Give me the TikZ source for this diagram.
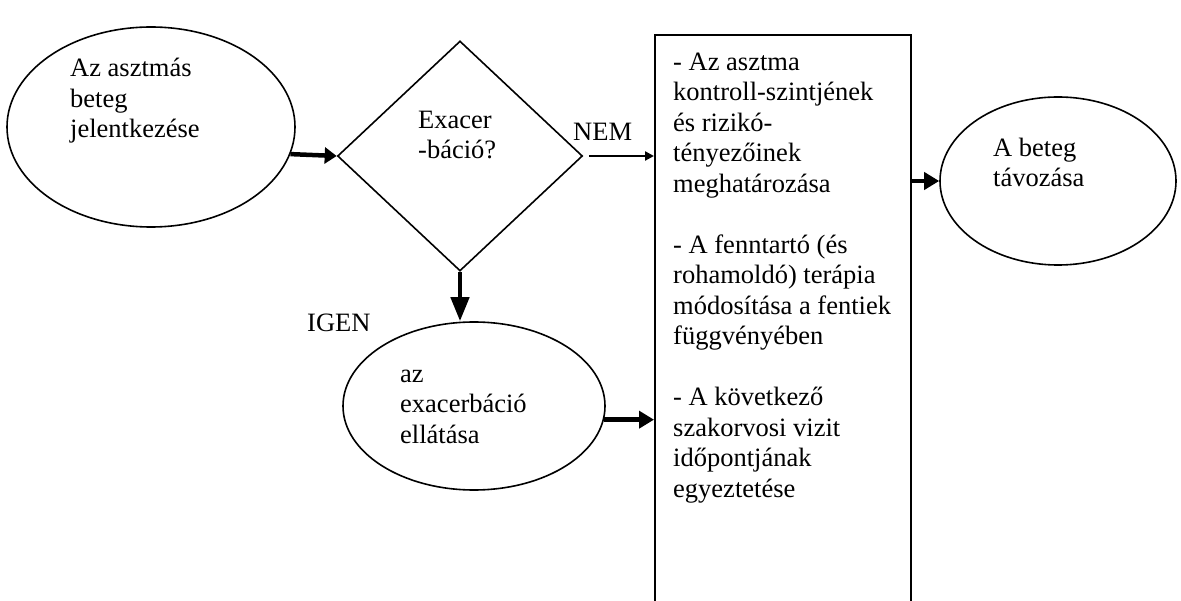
\documentclass[tikz,border=0pt]{standalone}
\usepackage{fontspec}
\setmainfont{Liberation Serif}
\usetikzlibrary{shapes.geometric,arrows.meta,positioning}

\begin{document}
\begin{tikzpicture}[x=1pt, y=-1pt,
    oval/.style={draw, ellipse, line width=1.6pt, inner sep=0pt},
    txt/.style={anchor=base west, inner sep=0pt, align=left,
      font=\fontsize{26.5}{30.5}\selectfont},
    flow/.style={-{Triangle[length=15pt,width=17pt]}, line width=4.5pt}]

  \useasboundingbox (0,0) rectangle (1181,601);

  % the shapes
  \node [oval, minimum width=288pt, minimum height=200pt] (start) at (151,127) {};
  \node [draw, diamond, line width=1.6pt, inner sep=0pt,
         minimum width=245pt, minimum height=230pt] (exa) at (460,156) {};
  \node [oval, minimum width=262pt, minimum height=168pt] (care) at (474,406) {};
  \node [draw, line width=1.8pt, anchor=north west,
         minimum width=256pt, minimum height=600pt] (plan) at (654,34) {};
  \node [oval, minimum width=236pt, minimum height=168pt] (leave) at (1058,181) {};

  % the texts (anchored at the last baseline)
  \node [txt] (startT) at (70,138) {Az asztmás\\beteg\\jelentkezése};
  \node [txt] (exaT) at (418,159) {Exacer\\-báció?};
  \node [txt] (careT) at (400,443) {az\\exacerbáció\\ellátása};
  \node [txt] (leaveT) at (993,187) {A beteg\\távozása};
  \node [txt] (planT) at (673,497) {- Az asztma\\kontroll-szintjének\\és rizikó-\\tényezőinek\\meghatározása\\[30.5pt]
    - A fenntartó (és\\rohamoldó) terápia\\módosítása a fentiek\\függvényében\\[30.5pt]
    - A következő\\szakorvosi vizit\\időpontjának\\egyeztetése};
  \node [txt] (nem) at (573,141) {NEM};
  \node [txt] (igen) at (307,332) {IGEN};

  % the arrows
  \draw [flow, -{Triangle[length=12pt,width=16pt]}] (start.-11.5) -- (exa.west);
  \draw [flow, line width=2.2pt, -{Triangle[length=9pt,width=9pt]}]
    ([xshift=6pt]exa.east) -- (exa.east -| plan.west);
  \draw [flow, -{Triangle[length=24pt,width=18pt]}] (exa.south) -- (exa.south |- care.north);
  \draw [flow] (care.-6) -- (care.-6 -| plan.west);
  \draw [flow] (plan.east |- leave.west) -- (leave.west);
\end{tikzpicture}
\end{document}
